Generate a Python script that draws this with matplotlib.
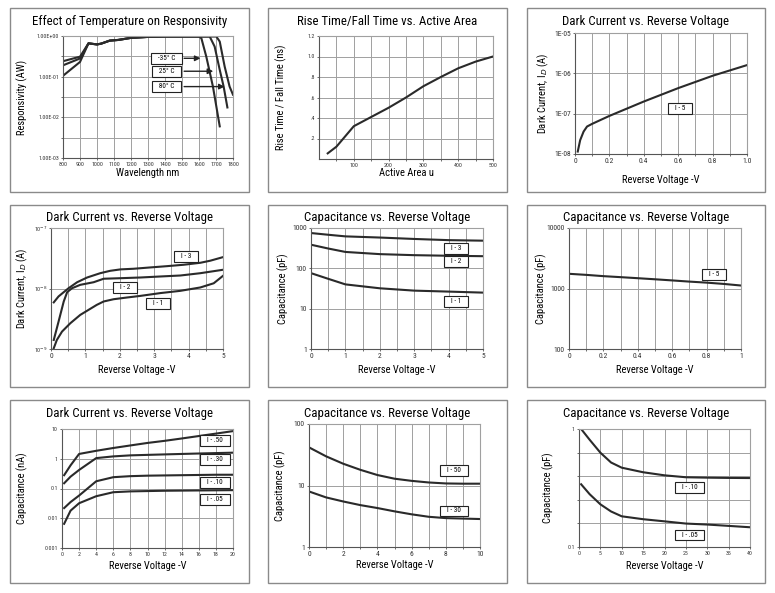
import matplotlib
matplotlib.use("Agg")
import matplotlib.pyplot as plt
import matplotlib.font_manager as fm
from matplotlib.patches import Rectangle
from matplotlib.ticker import FixedLocator, NullLocator


def _narrow_font():
    candidates = ["Liberation Sans Narrow", "Roboto Condensed", "Liberation Sans"]
    available = {f.name for f in fm.fontManager.ttflist}
    for name in candidates:
        if name in available:
            return name
    return "DejaVu Sans"


plt.rcParams["font.family"] = [_narrow_font(), "DejaVu Sans"]

# ---- data -------------------------------------------------------------
# 1: responsivity vs wavelength
resp_wl_m35 = [800, 900, 950, 1000, 1025, 1075, 1125, 1200, 1300, 1400, 1500, 1600, 1614, 1643, 1682, 1722]
resp_m35 = [0.105, 0.23, 0.66, 0.62, 0.65, 0.77, 0.80, 0.90, 0.95, 0.97, 0.97, 0.97, 0.88, 0.31, 0.057, 0.006]
resp_wl_25 = [800, 900, 950, 1000, 1025, 1075, 1125, 1200, 1300, 1400, 1500, 1600, 1663, 1692, 1722, 1745, 1767]
resp_25 = [0.19, 0.28, 0.66, 0.62, 0.65, 0.77, 0.80, 0.90, 0.95, 0.97, 0.97, 0.97, 0.97, 0.55, 0.147, 0.057, 0.0175]
resp_wl_80 = [800, 900, 950, 1000, 1025, 1075, 1125, 1200, 1300, 1400, 1500, 1600, 1702, 1722, 1751, 1780, 1800]
resp_80 = [0.24, 0.31, 0.66, 0.62, 0.65, 0.77, 0.80, 0.90, 0.95, 0.97, 0.97, 0.97, 0.97, 0.73, 0.177, 0.057, 0.036]
temp_labels = ["-35° C", "25° C", "80° C"]

# 2: rise/fall time vs active area
area_um = [25, 50, 100, 150, 200, 250, 300, 350, 400, 450, 500]
rise_ns = [0.055, 0.12, 0.32, 0.41, 0.50, 0.60, 0.71, 0.80, 0.885, 0.95, 1.0]

# 3: dark current I-5
dc5_v = [0.016, 0.03, 0.05, 0.07, 0.1, 0.2, 0.4, 0.6, 0.8, 1.0]
dc5_a = [1.15e-8, 2.2e-8, 3.6e-8, 4.8e-8, 5.6e-8, 8.8e-8, 2.0e-7, 4.3e-7, 8.7e-7, 1.6e-6]

# 4: dark current I-1, I-2, I-3
dc3_v = [0.08, 0.22, 0.37, 0.51, 0.76, 1.05, 1.43, 1.72, 2.02, 2.4, 2.89, 3.37, 3.86, 4.34, 4.63, 5.0]
dc3_a = [5.9e-9, 7.4e-9, 8.7e-9, 1.01e-8, 1.27e-8, 1.52e-8, 1.79e-8, 1.96e-8, 2.07e-8, 2.12e-8, 2.23e-8,
         2.34e-8, 2.47e-8, 2.66e-8, 2.88e-8, 3.3e-8]
dc2_v = [0.08, 0.22, 0.37, 0.47, 0.61, 0.85, 1.05, 1.24, 1.53, 2.02, 2.6, 3.18, 3.76, 4.34, 5.0]
dc2_a = [1.41e-9, 2.84e-9, 6.1e-9, 8.7e-9, 1.01e-8, 1.15e-8, 1.21e-8, 1.27e-8, 1.45e-8, 1.48e-8, 1.52e-8,
         1.58e-8, 1.64e-8, 1.79e-8, 2.04e-8]
dc1_v = [0.08, 0.17, 0.32, 0.56, 0.85, 1.09, 1.33, 1.53, 1.82, 2.21, 2.6, 3.18, 3.76, 4.34, 4.73, 5.0]
dc1_a = [1.03e-9, 1.41e-9, 1.94e-9, 2.66e-9, 3.66e-9, 4.43e-9, 5.36e-9, 6.1e-9, 6.65e-9, 7.1e-9, 7.55e-9,
         8.4e-9, 9.15e-9, 1.04e-8, 1.22e-8, 1.62e-8]

# 5: capacitance I-1, I-2, I-3
cap5_v = [0, 0.5, 1, 2, 3, 4, 5]
cap_i3 = [750, 680, 620, 580, 535, 500, 485]
cap_i2 = [385, 310, 255, 225, 212, 205, 200]
cap_i1 = [76, 55, 40, 32, 28, 26.5, 25]

# 6: capacitance I-5
cap6_v = [0, 0.1, 0.2, 0.3, 0.4, 0.5, 0.6, 0.7, 0.8, 0.9, 1.0]
cap_i5 = [1750, 1680, 1600, 1540, 1480, 1420, 1360, 1300, 1250, 1190, 1120]

# 7: dark current (nA) I-.50 ... I-.05
dcn_v = [0.25, 1, 2, 4, 6, 8, 10, 12, 14, 16, 18, 20]
dcn_50 = [0.28, 0.6, 1.45, 1.85, 2.3, 2.8, 3.4, 4.0, 4.8, 5.8, 7.0, 8.5]
dcn_30 = [0.15, 0.25, 0.42, 1.05, 1.2, 1.3, 1.35, 1.4, 1.45, 1.5, 1.55, 1.6]
dcn_10 = [0.022, 0.035, 0.058, 0.175, 0.24, 0.26, 0.27, 0.275, 0.28, 0.285, 0.29, 0.29]
dcn_05 = [0.0065, 0.018, 0.032, 0.055, 0.075, 0.08, 0.082, 0.084, 0.085, 0.086, 0.087, 0.088]

# 8: capacitance I-50, I-30
cap8_v = [0, 1, 2, 3, 4, 5, 6, 7, 8, 9, 10]
cap_50 = [41.7, 29.8, 22.6, 18, 14.8, 12.9, 11.9, 11.2, 10.8, 10.7, 10.7]
cap_30 = [8.0, 6.4, 5.5, 4.8, 4.3, 3.8, 3.4, 3.1, 2.95, 2.9, 2.85]

# 9: capacitance I-.10, I-.05
cap9_v = [0.5, 2.5, 5, 7.5, 10, 15, 20, 25, 30, 35, 40]
cap_10 = [1.0, 0.81, 0.63, 0.52, 0.47, 0.43, 0.405, 0.39, 0.387, 0.385, 0.384]
cap_05 = [0.34, 0.28, 0.23, 0.20, 0.182, 0.172, 0.165, 0.158, 0.155, 0.151, 0.147]

# ---- figure -----------------------------------------------------------
W, H = 775, 593
fig = plt.figure(figsize=(W / 100, H / 100), dpi=100)

LINE = "#2a2a2a"
GRID = "#a0a0a0"
LAB_FS = 7.6
TITLE_FS = 9.3


def panel(box, axrect, title, title_y, xlabel, xlab_y, ylabel, ylab_x, tick_fs):
    # gray frame around each chart
    l, t, r, b = box
    fig.patches.append(Rectangle((l / W, 1 - b / H), (r - l) / W, (b - t) / H,
                                 transform=fig.transFigure, fill=False, ec="#8a8a8a", lw=1.0))
    fig.text((l + r) / 2 / W, 1 - title_y / H, title, ha="center", va="center", fontsize=TITLE_FS)
    al, at, ar, ab = axrect
    ax = fig.add_axes([al / W, 1 - ab / H, (ar - al) / W, (ab - at) / H])
    ax.set_xlabel(xlabel, fontsize=LAB_FS)
    ax.set_ylabel(ylabel, fontsize=LAB_FS)
    ax.xaxis.set_label_coords(0.5, -(xlab_y - ab) / (ab - at))
    ax.xaxis.label.set_va("center")
    ax.yaxis.set_label_coords((ylab_x - al) / (ar - al), 0.5)
    ax.yaxis.label.set_va("center")
    for side in ("top", "right"):
        ax.spines[side].set_color(GRID)
        ax.spines[side].set_linewidth(0.8)
    for side in ("left", "bottom"):
        ax.spines[side].set_color("#555555")
        ax.spines[side].set_linewidth(0.8)
    ax.tick_params(labelsize=tick_fs, length=1.5, width=0.5, pad=1.5, colors="#333333")
    ax.grid(True, color=GRID, lw=0.7)
    return ax


def ticks(ax, xpos, xlab, ypos, ylab):
    ax.xaxis.set_major_locator(FixedLocator(xpos))
    ax.set_xticklabels(xlab)
    ax.yaxis.set_minor_locator(NullLocator())
    ax.xaxis.set_minor_locator(NullLocator())
    ax.yaxis.set_major_locator(FixedLocator(ypos))
    ax.set_yticklabels(ylab)


def tag(ax, x, y, s):
    ax.text(x, y, "   " + s + "   ", ha="center", va="center", fontsize=5.2,
            bbox=dict(boxstyle="square,pad=0.25", fc="white", ec="#222222", lw=0.8), zorder=5)


# --- panel 1
ax = panel((10, 8, 249, 192), (63, 36, 233, 158), "Effect of Temperature on Responsivity", 22,
           "Wavelength nm", 173, "Responsivity (AW)", 22, 4.2)
ax.set_yscale("log")
ax.plot(resp_wl_m35, resp_m35, color=LINE, lw=1.5)
ax.plot(resp_wl_25, resp_25, color=LINE, lw=1.5)
ax.plot(resp_wl_80, resp_80, color=LINE, lw=1.5)
ax.set_xlim(800, 1800)
ax.set_ylim(1e-3, 1)
xs = list(range(800, 1801, 100))
ys = [10 ** (k / 2) for k in range(-6, 1)]
ticks(ax, xs, [str(v) for v in xs], ys,
      ["1.00E-03", "", "1.00E-02", "", "1.00E-01", "", "1.00E+00"])
arrow_tips = [1625, 1700, 1767]
arrow_y = [0.283, 0.136, 0.057]
for s, tip, yy in zip(temp_labels, arrow_tips, arrow_y):
    ax.annotate("", xy=(tip, yy), xytext=(1496, yy),
                arrowprops=dict(arrowstyle="-|>", color="#222222", lw=1.0, mutation_scale=8), zorder=4)
    tag(ax, 1408, yy, s)

# --- panel 2
ax = panel((268, 8, 507, 192), (319, 36, 493, 159), "Rise Time/Fall Time vs. Active Area", 22,
           "Active Area u", 173, "Rise Time / Fall Time (ns)", 281, 4.2)
ax.plot(area_um, rise_ns, color=LINE, lw=1.5)
ax.set_xlim(0, 500)
ax.set_ylim(0, 1.2)
xs = list(range(50, 501, 50))
ticks(ax, xs, [str(v) if v % 100 == 0 else "" for v in xs],
      [0.2, 0.4, 0.6, 0.8, 1.0, 1.2], [".2", ".4", ".6", ".8", "1.0", "1.2"])

# --- panel 3
ax = panel((527, 8, 765, 192), (575, 33, 747, 154), "Dark Current vs. Reverse Voltage", 22,
           "Reverse Voltage -V", 180, "Dark Current, I$_D$ (A)", 543, 5.4)
ax.set_yscale("log")
ax.plot(dc5_v, dc5_a, color=LINE, lw=1.5)
ax.set_xlim(0, 1)
ax.set_ylim(1e-8, 1e-5)
xs = [k / 10 for k in range(11)]
xl = ["0", "", "0.2", "", "0.4", "", "0.6", "", "0.8", "", "1.0"]
ticks(ax, xs, xl, [1e-8, 1e-7, 1e-6, 1e-5], ["1E-08", "1E-07", "1E-06", "1E-05"])
tag(ax, 0.61, 1.36e-7, "I - 5")

# --- panel 4
ax = panel((10, 205, 249, 387), (51, 228, 223, 349), "Dark Current vs. Reverse Voltage", 218,
           "Reverse Voltage -V", 370, "Dark Current, I$_D$ (A)", 22, 5.4)
ax.set_yscale("log")
ax.plot(dc3_v, dc3_a, color=LINE, lw=1.5)
ax.plot(dc2_v, dc2_a, color=LINE, lw=1.5)
ax.plot(dc1_v, dc1_a, color=LINE, lw=1.5)
ax.set_xlim(0, 5)
ax.set_ylim(1e-9, 1e-7)
xs = [k / 2 for k in range(11)]
ticks(ax, xs, [str(int(v)) if v == int(v) else "" for v in xs],
      [1e-9, 1e-8, 1e-7], ["10$^{-9}$", "10$^{-8}$", "10$^{-7}$"])
ax.tick_params(axis="y", labelsize=4.3, pad=1)
tag(ax, 3.92, 3.4e-8, "I - 3")
tag(ax, 2.15, 1.05e-8, "I - 2")
tag(ax, 3.11, 5.6e-9, "I - 1")

# --- panel 5
ax = panel((268, 205, 507, 387), (311, 228, 483, 349), "Capacitance vs. Reverse Voltage", 218,
           "Reverse Voltage -V", 370, "Capacitance (pF)", 283, 5.4)
ax.set_yscale("log")
ax.plot(cap5_v, cap_i3, color=LINE, lw=1.5)
ax.plot(cap5_v, cap_i2, color=LINE, lw=1.5)
ax.plot(cap5_v, cap_i1, color=LINE, lw=1.5)
ax.set_xlim(0, 5)
ax.set_ylim(1, 1000)
ticks(ax, xs, [str(int(v)) if v == int(v) else "" for v in xs],
      [1, 10, 100, 1000], ["1", "10", "100", "1000"])
tag(ax, 4.21, 312, "I - 3")
tag(ax, 4.21, 146, "I - 2")
tag(ax, 4.21, 15, "I - 1")

# --- panel 6
ax = panel((527, 205, 765, 387), (569, 228, 741, 349), "Capacitance vs. Reverse Voltage", 218,
           "Reverse Voltage -V", 370, "Capacitance (pF)", 541, 5.4)
ax.set_yscale("log")
ax.plot(cap6_v, cap_i5, color=LINE, lw=1.5)
ax.set_xlim(0, 1)
ax.set_ylim(100, 10000)
xs = [k / 10 for k in range(11)]
xl = ["0", "", "0.2", "", "0.4", "", "0.6", "", "0.8", "", "1"]
ticks(ax, xs, xl, [100, 1000, 10000], ["100", "1000", "10000"])
tag(ax, 0.843, 1690, "I - 5")

# --- panel 7
ax = panel((10, 400, 249, 583), (62, 429, 233, 548), "Dark Current vs. Reverse Voltage", 413,
           "Reverse Voltage -V", 566, "Capacitance (nA)", 22, 4.2)
ax.set_yscale("log")
for series in (dcn_50, dcn_30, dcn_10, dcn_05):
    ax.plot(dcn_v, series, color=LINE, lw=1.5)
ax.set_xlim(0, 20)
ax.set_ylim(0.001, 10)
xs = list(range(0, 21, 2))
ticks(ax, xs, [str(v) for v in xs], [0.001, 0.01, 0.1, 1, 10], ["0.001", "0.01", "0.1", "1", "10"])
tag(ax, 17.9, 4.06, "I - .50")
tag(ax, 17.9, 0.93, "I - .30")
tag(ax, 17.9, 0.157, "I - .10")
tag(ax, 17.9, 0.043, "I - .05")

# --- panel 8
ax = panel((268, 400, 507, 583), (309, 424, 480, 547), "Capacitance vs. Reverse Voltage", 413,
           "Reverse Voltage -V", 565, "Capacitance (pF)", 280, 5.4)
ax.set_yscale("log")
ax.plot(cap8_v, cap_50, color=LINE, lw=1.5)
ax.plot(cap8_v, cap_30, color=LINE, lw=1.5)
ax.set_xlim(0, 10)
ax.set_ylim(1, 100)
xs = list(range(0, 11))
ticks(ax, xs, [str(v) if v % 2 == 0 else "" for v in xs], [1, 10, 100], ["1", "10", "100"])
tag(ax, 8.48, 17.7, "I - 50")
tag(ax, 8.48, 3.85, "I - 30")

# --- panel 9
ax = panel((527, 400, 765, 583), (579, 429, 750, 547), "Capacitance vs. Reverse Voltage", 413,
           "Reverse Voltage -V", 566, "Capacitance (pF)", 548, 4.2)
ax.set_yscale("log")
ax.plot(cap9_v, cap_10, color=LINE, lw=1.5)
ax.plot(cap9_v, cap_05, color=LINE, lw=1.5)
ax.set_xlim(0, 40)
ax.set_ylim(0.1, 1)
xs = list(range(0, 41, 5))
ys = [0.1 * 10 ** (k / 5) for k in range(6)]
ticks(ax, xs, [str(v) for v in xs], ys, ["0.1", "", "", "", "", "1"])
tag(ax, 25.9, 0.318, "I - .10")
tag(ax, 25.9, 0.126, "I - .05")

fig.savefig("out.png", dpi=100)
